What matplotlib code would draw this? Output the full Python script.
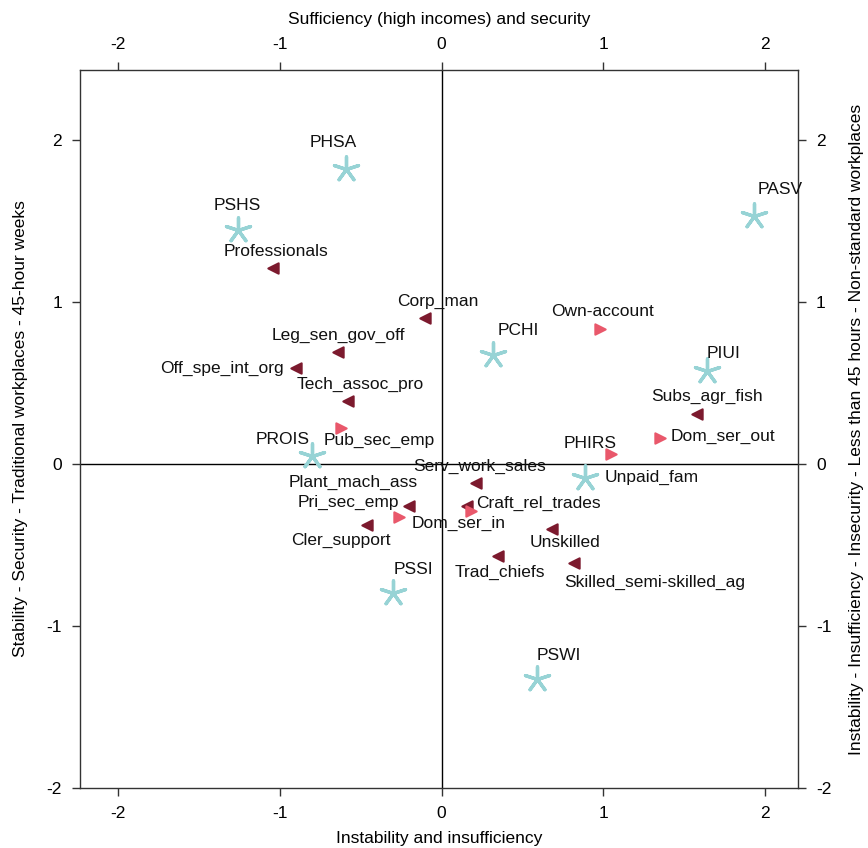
import matplotlib.pyplot as plt

plt.rcParams['font.family'] = ['Liberation Sans', 'DejaVu Sans']
plt.rcParams['axes.unicode_minus'] = False

# supplementary profiles (asterisks)
prof_names = ['PHSA', 'PSHS', 'PASV', 'PCHI', 'PIUI', 'PROIS', 'PHIRS', 'PSSI', 'PSWI']
prof_x = [-0.59, -1.26, 1.93, 0.32, 1.64, -0.80, 0.89, -0.30, 0.59]
prof_y = [1.82, 1.44, 1.53, 0.67, 0.57, 0.05, -0.09, -0.80, -1.33]

# occupations (dark triangles)
occ_names = ['Professionals', 'Corp_man', 'Leg_sen_gov_off', 'Off_spe_int_org', 'Tech_assoc_pro',
             'Subs_agr_fish', 'Serv_work_sales', 'Plant_mach_ass', 'Cler_support',
             'Craft_rel_trades', 'Unskilled', 'Trad_chiefs', 'Skilled_semi-skilled_ag']
occ_x = [-1.04, -0.10, -0.64, -0.90, -0.58, 1.58, 0.21, -0.20, -0.46, 0.16, 0.68, 0.35, 0.82]
occ_y = [1.21, 0.90, 0.69, 0.59, 0.39, 0.31, -0.12, -0.26, -0.38, -0.26, -0.40, -0.57, -0.61]

# employment status (pink triangles)
emp_names = ['Own-account', 'Pub_sec_emp', 'Dom_ser_out', 'Unpaid_fam', 'Pri_sec_emp', 'Dom_ser_in']
emp_x = [0.98, -0.62, 1.35, 1.05, -0.26, 0.18]
emp_y = [0.83, 0.22, 0.16, 0.06, -0.33, -0.29]

ticks = [-2, -1, 0, 1, 2]

# label offsets in points (dx, dy, ha)
offsets = {
    'PHSA': (-9, 19, 'center'), 'PSHS': (0, 18, 'center'), 'PASV': (19, 19, 'center'),
    'PCHI': (18, 18, 'center'), 'PIUI': (12, 13, 'center'), 'PROIS': (-21, 12, 'center'),
    'PHIRS': (3, 25, 'center'), 'PSSI': (15, 17, 'center'), 'PSWI': (16, 17, 'center'),
    'Professionals': (2, 12, 'center'), 'Corp_man': (9, 12, 'center'),
    'Leg_sen_gov_off': (0, 12, 'center'), 'Off_spe_int_org': (-9, 0, 'right'),
    'Tech_assoc_pro': (9, 12, 'center'), 'Subs_agr_fish': (7, 12, 'center'),
    'Serv_work_sales': (3, 12, 'center'), 'Plant_mach_ass': (-40, 17, 'center'),
    'Cler_support': (-19, -11, 'center'), 'Craft_rel_trades': (6, 2, 'left'),
    'Unskilled': (10, -10, 'center'), 'Trad_chiefs': (1, -12, 'center'),
    'Skilled_semi-skilled_ag': (58, -14, 'center'),
    'Own-account': (2, 13, 'center'), 'Pub_sec_emp': (-13, -9, 'left'),
    'Dom_ser_out': (8, 1, 'left'), 'Unpaid_fam': (-5, -17, 'left'),
    'Pri_sec_emp': (-37, 11, 'center'), 'Dom_ser_in': (-9, -9, 'center'),
}

fig = plt.figure(figsize=(8.68, 8.48), dpi=100)
ax = fig.add_axes([0.0922, 0.0708, 0.8272, 0.8467])

ax.axhline(0, color='black', lw=1, zorder=1)
ax.axvline(0, color='black', lw=1, zorder=1)

ax.scatter(prof_x, prof_y, marker=(5, 2, 0), s=330, color='#97d3d5', linewidths=2.4, zorder=3)
ax.scatter(occ_x, occ_y, marker='<', s=55, color='#7c1a2e', edgecolors='#7c1a2e',
           linewidths=1.5, zorder=3)
ax.scatter(emp_x, emp_y, marker='>', s=55, color='#e9586b', edgecolors='#e9586b',
           linewidths=1.5, zorder=3)

for names, xs, ys in [(prof_names, prof_x, prof_y), (occ_names, occ_x, occ_y),
                      (emp_names, emp_x, emp_y)]:
    for n, x, y in zip(names, xs, ys):
        dx, dy, ha = offsets[n]
        ax.annotate(n, (x, y), xytext=(dx, dy), textcoords='offset points',
                    ha=ha, va='center', fontsize=12.5, color='#111111', zorder=4)

ax.set_xlim(-2.235, 2.204)
ax.set_ylim(-2.0, 2.43)
ax.set_xticks(ticks)
ax.set_yticks(ticks)
ax.tick_params(direction='out', length=6, width=1, labelsize=12.5, pad=7,
               color='#333333', top=True, right=True, labeltop=True, labelright=True)
for s in ax.spines.values():
    s.set_linewidth(1)
    s.set_color('#333333')

ax.set_xlabel('Instability and insufficiency', fontsize=12.5, labelpad=7)
ax.set_ylabel('Stability - Security - Traditional workplaces - 45-hour weeks', fontsize=12.5,
              labelpad=13)
sec_x = ax.secondary_xaxis('top')
sec_x.set_xticks([])
sec_x.spines['top'].set_visible(False)
sec_x.set_xlabel('Sufficiency (high incomes) and security', fontsize=12.5, labelpad=33)
ax.text(1.082, 0.5, 'Instability - Insufficiency - Insecurity - Less than 45 hours - Non-standard workplaces',
        transform=ax.transAxes, rotation=90, ha='center', va='center', fontsize=12.5)

fig.savefig('out.png', dpi=100)
